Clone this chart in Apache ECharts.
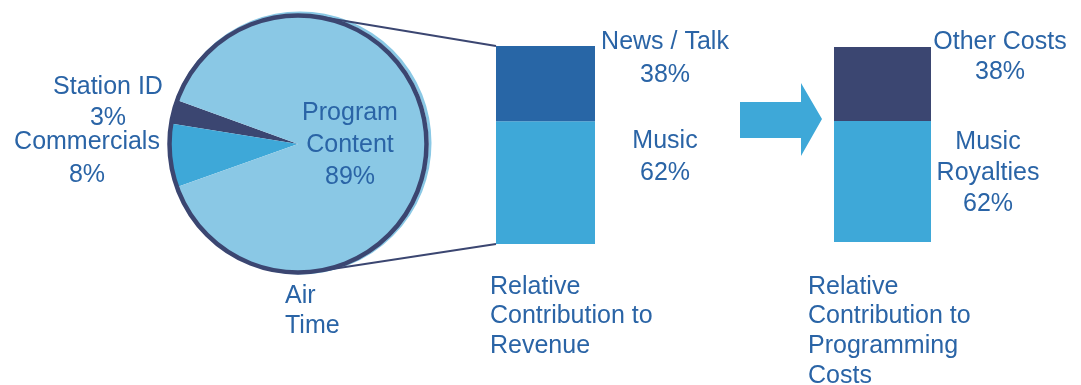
<!DOCTYPE html>
<html>
<head>
<meta charset="utf-8">
<script src="https://cdn.jsdelivr.net/npm/echarts@6/dist/echarts.min.js"></script>
<style>
  html, body { margin: 0; padding: 0; background: #ffffff; }
  #chart { width: 1081px; height: 385px; }
</style>
</head>
<body>
<div id="chart"></div>
<script>
// Share of air time
const airTimeNames = ['Station ID', 'Commercials', 'Program\nContent'];
const airTimeShares = [3, 8, 89];

// Contribution to revenue (bottom segment first)
const revenueNames = ['Music', 'News / Talk'];
const revenueShares = [62, 38];

// Contribution to programming costs (bottom segment first)
const costNames = ['Music\nRoyalties', 'Other Costs'];
const costShares = [62, 38];

// Captions under each panel
const captions = ['Air\nTime', 'Relative\nContribution to\nRevenue', 'Relative\nContribution to\nProgramming\nCosts'];

// Colours and layout
const TEXT = '#2a64a6';
const NAVY = '#3b4671';
const MID = '#3ea8d8';
const LIGHT = '#8ac8e5';
const DARK_BLUE = '#2866a6';
const FONT = '25px "Liberation Sans", Arial, sans-serif';

const pieCenter = [298, 144];
const pieR = 129;
const bar1 = { left: 496, top: 46, width: 99, height: 198 };
const bar2 = { left: 834, top: 47, width: 97, height: 195 };

const chart = echarts.init(document.getElementById('chart'), null, { renderer: 'canvas' });

const pieColors = [NAVY, MID, LIGHT];

function pct(v) { return v + '%'; }

function txt(text, x, y, align, lh) {
  return {
    type: 'text', x: x, y: y, z: 50,
    style: { text: text, font: FONT, fill: TEXT, align: align, verticalAlign: 'top', lineHeight: lh }
  };
}

function onCircle(deg) {
  const a = deg * Math.PI / 180;
  return [pieCenter[0] + pieR * Math.cos(a), pieCenter[1] - pieR * Math.sin(a)];
}

const topTangent = onCircle(81);
const bottomTangent = onCircle(-85);

const graphics = [
  // faint offset outline behind the pie
  { type: 'circle', z: 1, shape: { cx: pieCenter[0] + 2, cy: pieCenter[1] - 1, r: pieR + 1 },
    style: { fill: 'none', stroke: LIGHT, lineWidth: 3 } },
  // pie outer rim
  { type: 'circle', z: 20, shape: { cx: pieCenter[0], cy: pieCenter[1], r: pieR - 0.5 },
    style: { fill: 'none', stroke: NAVY, lineWidth: 4.5 } },
  // connectors from pie to revenue bar
  { type: 'line', z: 5, shape: { x1: topTangent[0], y1: topTangent[1], x2: bar1.left, y2: bar1.top },
    style: { stroke: NAVY, lineWidth: 2 } },
  { type: 'line', z: 5, shape: { x1: bottomTangent[0], y1: bottomTangent[1], x2: bar1.left, y2: bar1.top + bar1.height },
    style: { stroke: NAVY, lineWidth: 2 } },
  // arrow between the bars
  { type: 'polygon', z: 5, shape: { points: [[740, 102], [801, 102], [801, 83], [822, 119], [801, 156], [801, 138], [740, 138]] },
    style: { fill: MID } },

  // pie labels
  txt(airTimeNames[0] + '\n' + pct(airTimeShares[0]), 108, 72, 'center', 31),
  txt(airTimeNames[1] + '\n' + pct(airTimeShares[1]), 87, 126, 'center', 33),
  txt(airTimeNames[2] + '\n' + pct(airTimeShares[2]), 350, 97, 'center', 32),
  txt(captions[0], 285, 281, 'left', 30),

  // revenue labels
  txt(revenueNames[1] + '\n' + pct(revenueShares[1]), 665, 26, 'center', 33),
  txt(revenueNames[0] + '\n' + pct(revenueShares[0]), 665, 125, 'center', 32),
  txt(captions[1], 490, 272, 'left', 29.7),

  // cost labels
  txt(costNames[1] + '\n' + pct(costShares[1]), 1000, 27, 'center', 30),
  txt(costNames[0] + '\n' + pct(costShares[0]), 988, 127, 'center', 31),
  txt(captions[2], 808, 272, 'left', 29.7)
];

function stackSeries(idx, values, colors) {
  return values.map(function (v, i) {
    return {
      type: 'bar', xAxisIndex: idx, yAxisIndex: idx, stack: 's' + idx,
      barWidth: '100%', data: [v], silent: true,
      itemStyle: { color: colors[i] }
    };
  });
}

const option = {
  animation: false,
  backgroundColor: '#ffffff',
  grid: [
    { left: bar1.left, top: bar1.top, width: bar1.width, height: bar1.height },
    { left: bar2.left, top: bar2.top, width: bar2.width, height: bar2.height }
  ],
  xAxis: [
    { gridIndex: 0, type: 'category', data: [''], show: false },
    { gridIndex: 1, type: 'category', data: [''], show: false }
  ],
  yAxis: [
    { gridIndex: 0, type: 'value', min: 0, max: 100, show: false },
    { gridIndex: 1, type: 'value', min: 0, max: 100, show: false }
  ],
  series: [
    {
      type: 'pie', center: pieCenter, radius: pieR, z: 10,
      startAngle: 160, clockwise: false, silent: true,
      label: { show: false }, labelLine: { show: false },
      data: airTimeNames.map(function (n, i) {
        return { name: n, value: airTimeShares[i], itemStyle: { color: pieColors[i] } };
      })
    }
  ].concat(stackSeries(0, revenueShares, [MID, DARK_BLUE]))
   .concat(stackSeries(1, costShares, [MID, NAVY])),
  graphic: graphics
};

chart.setOption(option);
</script>
</body>
</html>
